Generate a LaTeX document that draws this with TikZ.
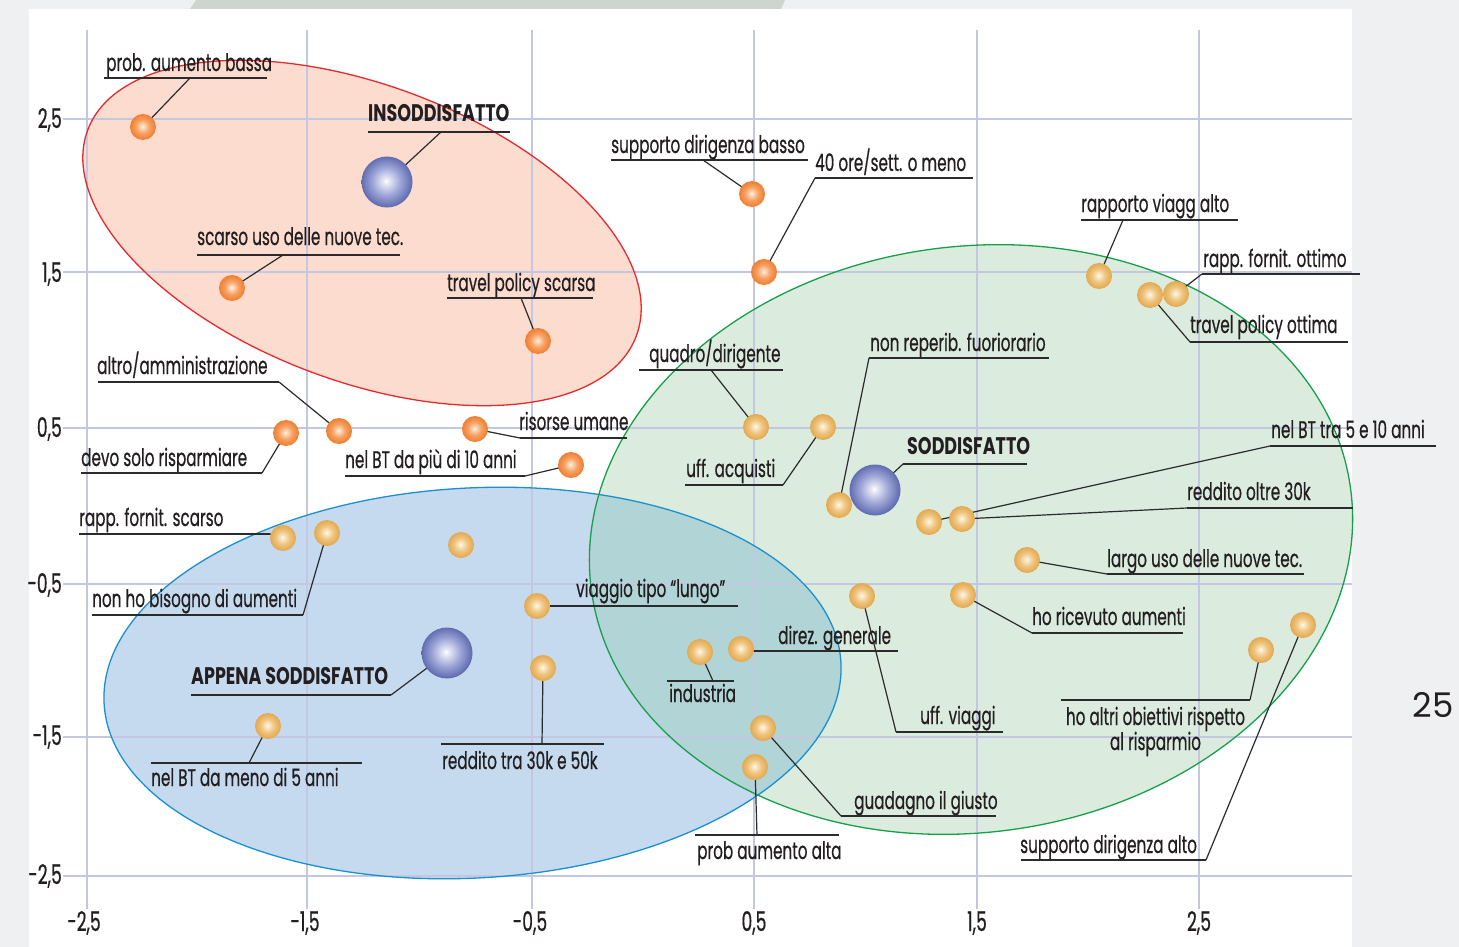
\documentclass[tikz,border=0pt]{standalone}
\usepackage{fontspec}
\newfontfamily\lblfont{Poppins}[FakeStretch=0.635, FakeBold=0.5]
\newfontfamily\headfont{Poppins}[FakeStretch=0.73]
\newfontfamily\pgnumfont{Poppins}
\definecolor{pagebg}{HTML}{EFF0F2}
\definecolor{topstrip}{HTML}{CCD5D0}
\definecolor{gridc}{HTML}{C4C7E1}
\definecolor{redfill}{HTML}{FCDCCE}
\definecolor{redline}{HTML}{E52A2F}
\definecolor{greenfill}{HTML}{DBEBDD}
\definecolor{greenline}{HTML}{16A04A}
\definecolor{bluefill}{HTML}{C5DAEF}
\definecolor{blueline}{HTML}{1C8FCF}
\definecolor{overlapfill}{HTML}{B1D4D6}
\definecolor{txt}{HTML}{231F20}
\definecolor{leadc}{HTML}{2B2B2B}
\definecolor{oLight}{HTML}{FDE3CC}
\definecolor{oMid}{HTML}{F7A062}
\definecolor{oEdge}{HTML}{EE7E30}
\definecolor{yLight}{HTML}{FBEFD6}
\definecolor{yMid}{HTML}{EFC47E}
\definecolor{yEdge}{HTML}{E2A84E}
\definecolor{bLight}{HTML}{E6E8F5}
\definecolor{bMid}{HTML}{9CA4D6}
\definecolor{bEdge}{HTML}{5F6BB0}
\pgfdeclareradialshading{orbO}{\pgfpoint{-1bp}{1bp}}{color(0bp)=(white); color(2bp)=(oLight); color(13bp)=(oMid); color(25bp)=(oEdge); color(50bp)=(oEdge)}
\pgfdeclareradialshading{orbY}{\pgfpoint{-1bp}{1bp}}{color(0bp)=(white); color(2bp)=(yLight); color(13bp)=(yMid); color(25bp)=(yEdge); color(50bp)=(yEdge)}
\pgfdeclareradialshading{orbB}{\pgfpoint{-1bp}{1bp}}{color(0bp)=(white); color(3bp)=(bLight); color(14bp)=(bMid); color(25bp)=(bEdge); color(50bp)=(bEdge)}
\newcommand\mklabel[7]{%
  \node[lbl] (#1) at (#2,#3) {#4};
  \coordinate (#1a) at (#5,#7);
  \coordinate (#1b) at (#6,#7);
  \draw[ul] (#1a) -- (#1b);
}
\newcommand\mkleader[4]{%
  \coordinate (#1c) at (#2,#3);
  \draw[ld] (#1c) -- (#4);
}
\begin{document}
\begin{tikzpicture}[x=1pt,y=-1pt,
  lbl/.style={anchor=base west, inner sep=0pt, text=txt, font=\lblfont\fontsize{24}{26}\selectfont},
  head/.style={anchor=base west, inner sep=0pt, text=txt, font=\headfont\bfseries\fontsize{24}{26}\selectfont},
  tick/.style={inner sep=0pt, text=txt, font=\lblfont\fontsize{27}{29}\selectfont},
  ul/.style={draw=leadc, line width=1.2pt},
  ld/.style={draw=leadc, line width=1.2pt},
  gridline/.style={draw=gridc, line width=2.6pt},
  odot/.style={circle, minimum size=26pt, inner sep=0pt, shade, shading=orbO},
  ydot/.style={circle, minimum size=26pt, inner sep=0pt, shade, shading=orbY},
  bdot/.style={circle, minimum size=51pt, inner sep=0pt, shade, shading=orbB},
  redell/.style={rotate around={-20.6:(362,233)}},
  greenell/.style={rotate around={7.6:(971,539.5)}},
  blueell/.style={rotate around={3.2:(472.5,683)}}]
\useasboundingbox (0,0) rectangle (1459,947);
% page
\fill[pagebg] (0,0) rectangle (1459,947);
\fill[topstrip] (190,9) -- (196,0) -- (785,0) -- (781,9) -- cycle;
\fill[white] (29,9) rectangle (1352,947);
% cluster fills
\fill[redfill, redell] (362,233) ellipse [x radius=293pt, y radius=148pt];
\fill[bluefill, blueell] (472.5,683) ellipse [x radius=369pt, y radius=195pt];
\fill[greenfill, greenell] (971,539.5) ellipse [x radius=383pt, y radius=293pt];
\begin{scope}
  \clip[blueell] (472.5,683) ellipse [x radius=369pt, y radius=195pt];
  \fill[overlapfill, greenell] (971,539.5) ellipse [x radius=383pt, y radius=293pt];
\end{scope}
% grid
\foreach \gx in {87,307,532,754,977,1199} { \draw[gridline] (\gx,30) -- (\gx,909); }
\foreach \gy in {119,272,428,584,737,876} { \draw[gridline] (63,\gy) -- (1352,\gy); }
% cluster outlines
\draw[redline, line width=1.3pt, redell] (362,233) ellipse [x radius=293pt, y radius=148pt];
\draw[blueline, line width=1.3pt, blueell] (472.5,683) ellipse [x radius=369pt, y radius=195pt];
\draw[greenline, line width=1.3pt, greenell] (971,539.5) ellipse [x radius=383pt, y radius=293pt];
% axis labels
\node[tick, anchor=base east] (y1) at (62,128) {2,5};
\node[tick, anchor=base east] (y2) at (62,282) {1,5};
\node[tick, anchor=base east] (y3) at (62,437) {0,5};
\node[tick, anchor=base east] (y4) at (62,593) {-0,5};
\node[tick, anchor=base east] (y5) at (62,745) {-1,5};
\node[tick, anchor=base east] (y6) at (62,884) {-2,5};
\node[tick, anchor=base] (x1) at (84,931) {-2,5};
\node[tick, anchor=base] (x2) at (305,931) {-1,5};
\node[tick, anchor=base] (x3) at (530,931) {-0,5};
\node[tick, anchor=base] (x4) at (754,931) {0,5};
\node[tick, anchor=base] (x5) at (977,931) {1,5};
\node[tick, anchor=base] (x6) at (1199,931) {2,5};
% dot centres
\coordinate (D1) at (143,127);
\coordinate (B1) at (387,182);
\coordinate (D3) at (232,288);
\coordinate (D4) at (538,341);
\coordinate (D5) at (752,194);
\coordinate (D6) at (764,272);
\coordinate (D7) at (1099,276);
\coordinate (D8) at (1176,294);
\coordinate (D9) at (1150,295);
\coordinate (D10) at (839,505);
\coordinate (D11) at (756,427);
\coordinate (D12) at (339,431);
\coordinate (D13) at (475,429);
\coordinate (D14) at (286,433);
\coordinate (D15) at (571,465);
\coordinate (D16) at (823,427);
\coordinate (B2) at (875,490);
\coordinate (D18) at (929,522);
\coordinate (D19) at (962,519);
\coordinate (D20) at (1027,560);
\coordinate (D21) at (963,595);
\coordinate (D22) at (283,538);
\coordinate (D23) at (327,533);
\coordinate (D24) at (537,606);
\coordinate (D25) at (741,649);
\coordinate (D26) at (700,652);
\coordinate (B3) at (447,653);
\coordinate (D28) at (268,726);
\coordinate (D29) at (543,668);
\coordinate (D30) at (862,596);
\coordinate (D31) at (763,728);
\coordinate (D32) at (755,767);
\coordinate (D33) at (1261,650);
\coordinate (D34) at (1303,625);
\coordinate (D35) at (461,545);
% labels with underlines
\mklabel{L1}{106}{71}{prob. aumento bassa}{104}{267}{78}
\node[head] (L2) at (368,122) {INSODDISFATTO};
\coordinate (L2a) at (368,132); \coordinate (L2b) at (510,132); \draw[ul] (L2a) -- (L2b);
\mklabel{L3}{197}{245}{scarso uso delle nuove tec.}{197}{400}{255}
\mklabel{L4}{447}{291}{travel policy scarsa}{447}{593}{298}
\mklabel{L5}{611}{153}{supporto dirigenza basso}{611}{808}{160}
\mklabel{L6}{815}{171}{40 ore/sett. o meno}{815}{973}{178}
\mklabel{L7}{1081}{212}{rapporto viagg alto}{1081}{1238}{220}
\mklabel{L8}{1203}{267}{rapp. fornit. ottimo}{1202}{1360}{274}
\mklabel{L9}{1190}{333}{travel policy ottima}{1190}{1348}{342}
\mklabel{L10}{870}{351}{non reperib. fuoriorario}{869}{1049}{358}
\mklabel{L11}{649}{362}{quadro/dirigente}{639}{783}{370}
\mklabel{L12}{97}{374}{altro/amministrazione}{98}{279}{382}
\mklabel{L13}{519}{430}{risorse umane}{520}{627}{438}
\mklabel{L14}{81}{466}{devo solo risparmiare}{81}{262}{473}
\mklabel{L15}{345}{468}{nel BT da più di 10 anni}{345}{525}{476}
\mklabel{L16}{686}{477}{uff. acquisti}{685}{783}{485}
\node[head] (L17) at (907,454) {SODDISFATTO};
\coordinate (L17a) at (903,464); \coordinate (L17b) at (1027,464); \draw[ul] (L17a) -- (L17b);
\mklabel{L18}{1271}{438}{nel BT tra 5 e 10 anni}{1270}{1436}{446}
\mklabel{L19}{1187}{500}{reddito oltre 30k}{1187}{1353}{508}
\mklabel{L20}{1107}{567}{largo uso delle nuove tec.}{1107}{1304}{574}
\mklabel{L21}{1032}{625}{ho ricevuto aumenti}{1032}{1183}{633}
\mklabel{L22}{79}{526}{rapp. fornit. scarso}{79}{270}{534}
\mklabel{L23}{92}{607}{non ho bisogno di aumenti}{92}{303}{615}
\mklabel{L24}{576}{597}{viaggio tipo “lungo”}{550}{738}{606}
\mklabel{L25}{778}{644}{direz. generale}{754}{898}{651}
\mklabel{L26}{669}{702}{industria}{667}{734}{681}
\node[head] (L27) at (191,684) {APPENA SODDISFATTO};
\coordinate (L27a) at (191,695); \coordinate (L27b) at (391,695); \draw[ul] (L27a) -- (L27b);
\mklabel{L28}{151}{786}{nel BT da meno di 5 anni}{151}{362}{763}
\mklabel{L29}{442}{769}{reddito tra 30k e 50k}{441}{604}{744}
\mklabel{L30}{920}{724}{uff. viaggi}{896}{1003}{732}
\mklabel{L31}{854}{809}{guadagno il giusto}{841}{996}{816}
\mklabel{L32}{697}{859}{prob aumento alta}{695}{839}{835}
\node[lbl, anchor=base] (L33) at (1155.5,725) {ho altri obiettivi rispetto};
\node[lbl, anchor=base] (L33x) at (1155.5,750) {al risparmio};
\coordinate (L33a) at (1061,700); \coordinate (L33b) at (1250,700); \draw[ul] (L33a) -- (L33b);
\mklabel{L34}{1020}{853}{supporto dirigenza alto}{1021}{1206}{860}
% leaders
\mkleader{L1}{190}{78}{D1}
\mkleader{L2}{441}{132}{B1}
\mkleader{L3}{283}{255}{D3}
\mkleader{L4}{521}{298}{D4}
\mkleader{L5}{703}{160}{D5}
\draw[ld] (L6a) -- (D6);
\mkleader{L7}{1123}{220}{D7}
\draw[ld] (L8a) -- (D8);
\draw[ld] (L9a) -- (D9);
\draw[ld] (L10a) -- (D10);
\mkleader{L11}{711}{370}{D11}
\draw[ld] (L12b) -- (D12);
\draw[ld] (L13a) -- (D13);
\draw[ld] (L14b) -- (D14);
\draw[ld] (L15b) -- (D15);
\draw[ld] (L16b) -- (D16);
\draw[ld] (L17a) -- (B2);
\draw[ld] (L18a) -- (D18);
\draw[ld] (L19a) -- (D19);
\draw[ld] (L20a) -- (D20);
\draw[ld] (L21a) -- (D21);
\draw[ld] (L22b) -- (D22);
\draw[ld] (L23b) -- (D23);
\draw[ld] (L24a) -- (D24);
\draw[ld] (L25a) -- (D25);
\mkleader{L26}{713}{681}{D26}
\draw[ld] (L27b) -- (B3);
\mkleader{L28}{249}{763}{D28}
\mkleader{L29}{542}{744}{D29}
\draw[ld] (L30a) -- (D30);
\draw[ld] (L31a) -- (D31);
\mkleader{L32}{757}{835}{D32}
\draw[ld] (L33b) -- (D33);
\draw[ld] (L34b) -- (D34);
% dots
\foreach \d in {D1,D3,D4,D5,D6,D12,D13,D14,D15} { \node[odot] (n\d) at (\d) {}; }
\foreach \d in {D7,D8,D9,D10,D11,D16,D18,D19,D20,D21,D22,D23,D24,D25,D26,D28,D29,D30,D31,D32,D33,D34,D35} { \node[ydot] (n\d) at (\d) {}; }
\foreach \d in {B1,B2,B3} { \node[bdot] (n\d) at (\d) {}; }
% page number
\node[anchor=base, inner sep=0pt, text=txt, font=\pgnumfont\fontsize{34}{36}\selectfont] (pg) at (1433,717) {25};
\end{tikzpicture}
\end{document}
